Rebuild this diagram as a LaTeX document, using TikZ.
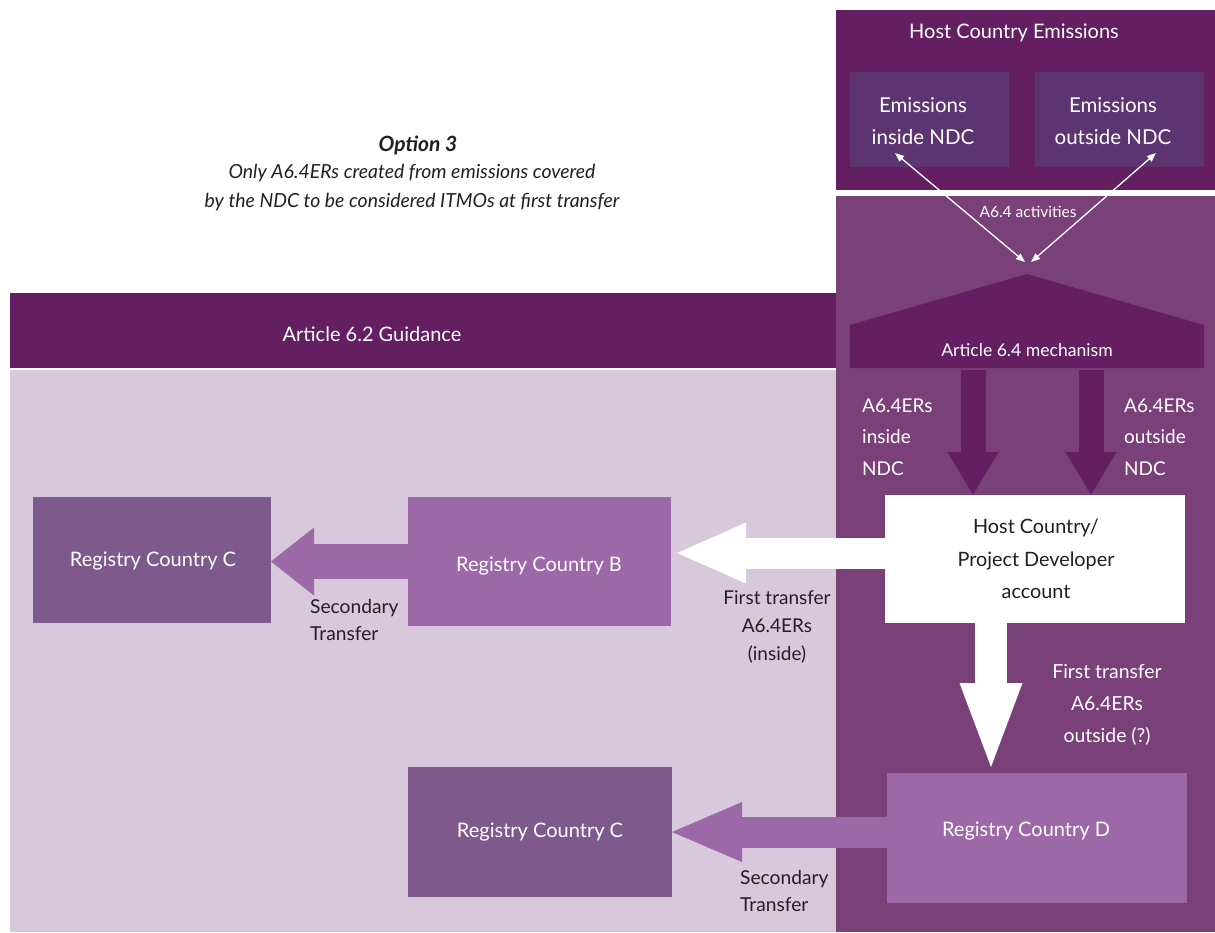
\documentclass[tikz,border=0pt]{standalone}
\usepackage{fontspec}
\setmainfont{Lato}
\usetikzlibrary{arrows.meta,calc}
\definecolor{deep}{HTML}{631F62}
\definecolor{panel}{HTML}{7A4179}
\definecolor{embox}{HTML}{5C3472}
\definecolor{lav}{HTML}{D7C8DC}
\definecolor{regB}{HTML}{9C68A8}
\definecolor{regC}{HTML}{7D5A8B}
\definecolor{ink}{HTML}{231F20}
\newcommand\fsz[2]{\fontsize{#1}{#2}\selectfont}
\begin{document}
\begin{tikzpicture}[x=1pt,y=-1pt,
  wtxt/.style={inner sep=0pt, align=center, text=white},
  dtxt/.style={inner sep=0pt, align=center, text=ink},
  regbox/.style={anchor=north west, inner sep=0pt, outer sep=0pt},
  reglbl/.style={wtxt, font=\fsz{20}{24}},
  fatarrow/.style n args={4}{draw=#1, line width=#2, -{Triangle[length=#3, width=#4, line width=0pt]}},
  linkarrow/.style={draw=white, line width=1.3pt, {Triangle[length=9pt,width=7pt]}-{Triangle[length=9pt,width=7pt]}}
]
\fill[white] (0,0) rectangle (1215,932);
\useasboundingbox (0,0) rectangle (1215,932);

% background regions
\fill[deep]  (836,10)  rectangle (1215,190);
\fill[panel] (836,196) rectangle (1215,932);
\fill[deep]  (10,293)  rectangle (836,368);
\fill[lav]   (10,370)  rectangle (836,932);
% Article 6.4 mechanism roof shape
\fill[deep] (850,368) -- (850,325) -- (1027,274) -- (1204,325) -- (1204,368) -- cycle;

% titles
\node[wtxt, font=\fsz{20}{24}] (hce) at (1014,33) {Host Country Emissions};
\node[wtxt, font=\fsz{20}{24}] (g62) at (372,334) {Article 6.2 Guidance};
\node[wtxt, font=\fsz{17.6}{20}] (mech) at (1027,350) {Article 6.4 mechanism};

\node[dtxt, font=\fsz{21}{24}\bfseries\itshape] (opt) at (418,145) {Option 3};
\node[dtxt, font=\fsz{19.4}{29}\itshape] (optd) at (412,188)
  {Only A6.4ERs created from emissions covered\\by the NDC to be considered ITMOs at first transfer};

% emission boxes
\node[regbox, fill=embox, minimum width=159pt, minimum height=95pt] (ein) at (850,72) {};
\node[wtxt, font=\fsz{20.5}{32}] (eintxt) at (923,121) {Emissions\\inside NDC};
\node[regbox, fill=embox, minimum width=169pt, minimum height=95pt] (eout) at (1035,72) {};
\node[wtxt, font=\fsz{20.5}{32}] (eouttxt) at (1113,121) {Emissions\\outside NDC};

% A6.4 activities links
\coordinate (mIn)  at (1025,262);
\coordinate (mOut) at (1031,262);
\draw[linkarrow] ($(ein.south west)+(45,-14)$) -- (mIn);
\draw[linkarrow] ($(eout.south east)+(-48,-14)$) -- (mOut);
\node[wtxt, font=\fsz{15.5}{18}] (act) at (1028,212) {A6.4 activities};

% host account
\node[regbox, fill=white, minimum width=300pt, minimum height=128pt] (host) at (885,495) {};
\node[dtxt, font=\fsz{19.8}{32.5}] (hosttxt) at (1036,559) {Host Country/\\Project Developer\\account};

% registries
\node[regbox, fill=regC, minimum width=238pt, minimum height=126pt] (c1) at (33,497) {};
\node[reglbl] (c1txt) at (153,561) {Registry Country C};
\node[regbox, fill=regB, minimum width=263pt, minimum height=129pt] (b) at (408,497) {};
\node[reglbl] (btxt) at (539,566) {Registry Country B};
\node[regbox, fill=regC, minimum width=264pt, minimum height=130pt] (c2) at (408,767) {};
\node[reglbl] (c2txt) at (540,832) {Registry Country C};
\node[regbox, fill=regB, minimum width=300pt, minimum height=130pt] (d) at (887,773) {};
\node[reglbl] (dtxt) at (1026,831) {Registry Country D};

% A6.4ER issuance arrows
\coordinate (mechL) at (973,370);
\coordinate (mechR) at (1091,370);
\draw[fatarrow={deep}{25pt}{43pt}{51pt}] (mechL) -- (mechL |- host.north);
\draw[fatarrow={deep}{25pt}{43pt}{51pt}] (mechR) -- (mechR |- host.north);
\node[wtxt, font=\fsz{19}{31.5}, anchor=west, align=left] (erin) at (862,437) {A6.4ERs\\inside\\NDC};
\node[wtxt, font=\fsz{19}{31.5}, anchor=west, align=left] (erout) at (1124,437) {A6.4ERs\\outside\\NDC};

% first transfers
\coordinate (hw) at ($(host.west)+(0,-6)$);
\coordinate (bE) at ([xshift=6pt]b.east);
\draw[fatarrow={white}{31pt}{69pt}{61pt}] (hw) -- (bE |- hw);
\node[dtxt, font=\fsz{19}{28}] (ftin) at (777,627) {First transfer\\A6.4ERs\\(inside)};

\coordinate (hs) at ($(host.south)+(-44,0)$);
\draw[fatarrow={white}{32pt}{84pt}{63pt}] (hs) -- ($(hs |- d.north)+(0,-6)$);
\node[wtxt, font=\fsz{19.4}{32}] (ftout) at (1107,705) {First transfer\\A6.4ERs\\outside (?)};

% secondary transfers
\draw[fatarrow={regB}{35pt}{43pt}{68pt}] (b.west) -- (b.west -| c1.east);
\node[dtxt, font=\fsz{19.2}{27}, anchor=west, align=left] (st1) at (310,620) {Secondary\\Transfer};
\draw[fatarrow={regB}{31pt}{70pt}{60pt}] (d.west |- c2.east) -- (c2.east);
\node[dtxt, font=\fsz{19.2}{27}, anchor=west, align=left] (st2) at (740,891) {Secondary\\Transfer};
\end{tikzpicture}
\end{document}
